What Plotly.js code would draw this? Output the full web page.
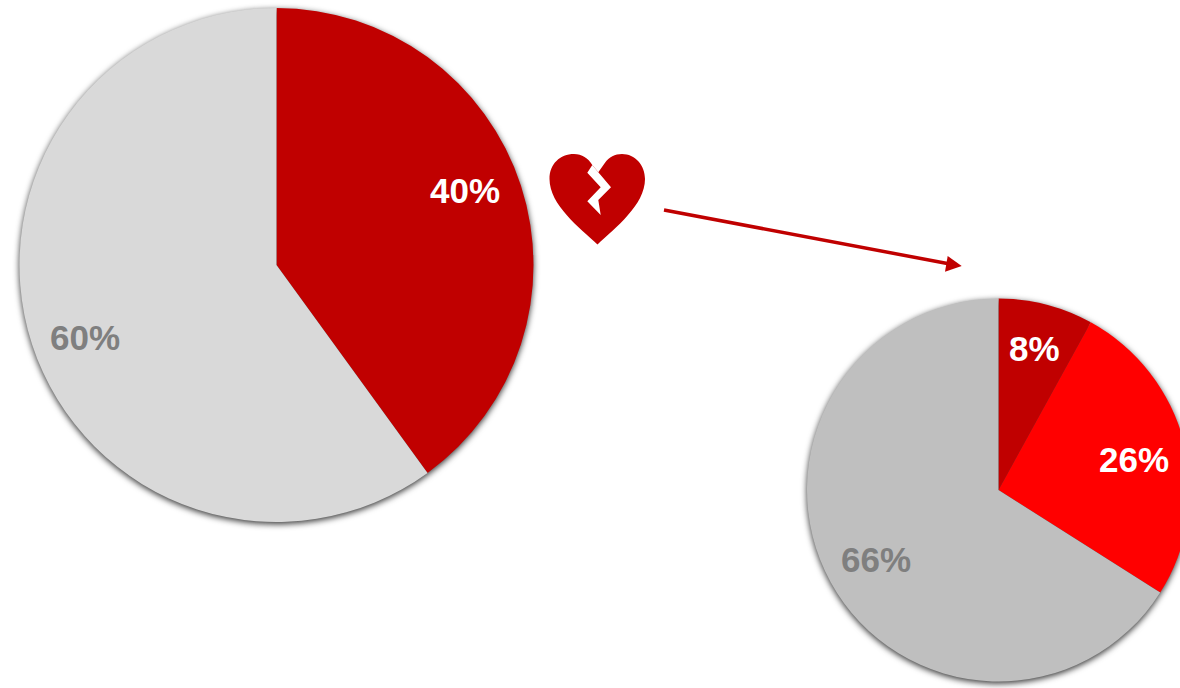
<!DOCTYPE html>
<html>
<head>
<meta charset="utf-8">
<script src="https://cdn.plot.ly/plotly-3.0.1.min.js"></script>
<style>
html,body{margin:0;padding:0;background:#fff;width:1180px;height:688px;overflow:hidden}
#chart{width:1300px;height:688px}
.pielayer .trace{filter:drop-shadow(0.5px 2.5px 3px rgba(0,0,0,.8))}
</style>
</head>
<body>
<div id="chart"></div>
<script>
const leftValues = [40, 60];
const leftColors = ['#C00000', '#D9D9D9'];
const rightValues = [8, 26, 66];
const rightColors = ['#C00000', '#FF0000', '#BFBFBF'];
const leftTextColors = ['#FFFFFF', '#7F7F7F'];
const rightTextColors = ['#FFFFFF', '#FFFFFF', '#7F7F7F'];
const leftLabelPos = [[465, 191], [85, 337]];
const rightLabelPos = [[1034, 348], [1134, 459], [876, 559]];

const W = 1300, H = 688;
const fx = x => x / W;
const fy = y => 1 - y / H;

function domain(cx, cy, r) {
  return {x: [fx(cx - r), fx(cx + r)], y: [fy(cy + r), fy(cy - r)]};
}
function pie(values, colors, cx, cy, r) {
  return {
    type: 'pie', values: values, labels: values.map(v => v + '%'),
    marker: {colors: colors, line: {width: 0}},
    sort: false, direction: 'clockwise', rotation: 0,
    textinfo: 'none', showlegend: false, domain: domain(cx, cy, r)
  };
}
function labels(values, colors, pos) {
  return values.map((v, i) => ({
    text: '<b>' + v + '%</b>', showarrow: false,
    xref: 'paper', yref: 'paper', x: fx(pos[i][0]), y: fy(pos[i][1]),
    xanchor: 'center', yanchor: 'middle',
    font: {family: 'Liberation Sans, Arial, sans-serif', size: 35, color: colors[i]}
  }));
}
function toPath(cmds) {
  return cmds.map(c => c[0] + c.slice(1).map(p => fx(p[0]) + ',' + fy(p[1])).join(' ')).join(' ');
}
const heart = toPath([
  ['M', [597.5, 244.5]],
  ['C', [580, 228], [549.5, 205], [549.5, 179]],
  ['C', [549.5, 164], [560, 154], [574, 154]],
  ['C', [582, 154], [588, 158], [592.3, 165]],
  ['L', [598.3, 172.3]],
  ['L', [605, 162.7]],
  ['C', [609, 157], [615, 154], [622, 154]],
  ['C', [635, 154], [645, 165], [645, 179]],
  ['C', [645, 205], [615, 228], [597.5, 244.5]],
  ['Z']
]);
const crack = toPath([
  ['M', [592.3, 165]], ['L', [587.3, 172.7]], ['L', [600.7, 187.3]], ['L', [587.3, 201.3]],
  ['L', [600.7, 215]], ['L', [598.3, 200]], ['L', [611, 187.3]], ['L', [598.3, 172.3]], ['Z']
]);
const arrowHead = toPath([
  ['M', [961.7, 266]], ['L', [947.7, 256]], ['L', [945, 271.7]], ['Z']
]);
const shapes = [
  {type: 'path', xref: 'paper', yref: 'paper', path: heart, fillcolor: '#C00000', line: {width: 0}},
  {type: 'path', xref: 'paper', yref: 'paper', path: crack, fillcolor: '#FFFFFF', line: {width: 0}},
  {type: 'line', xref: 'paper', yref: 'paper', x0: fx(664), y0: fy(210), x1: fx(950), y1: fy(264), line: {color: '#C00000', width: 3.5}},
  {type: 'path', xref: 'paper', yref: 'paper', path: arrowHead, fillcolor: '#C00000', line: {width: 0}}
];
Plotly.newPlot('chart',
  [pie(leftValues, leftColors, 276.5, 265, 257), pie(rightValues, rightColors, 998.5, 490, 191.5)],
  {
    width: W, height: H, margin: {l: 0, r: 0, t: 0, b: 0},
    paper_bgcolor: '#FFFFFF', showlegend: false, shapes: shapes,
    annotations: labels(leftValues, leftTextColors, leftLabelPos).concat(labels(rightValues, rightTextColors, rightLabelPos))
  },
  {displayModeBar: false, staticPlot: true}
);
</script>
</body>
</html>
